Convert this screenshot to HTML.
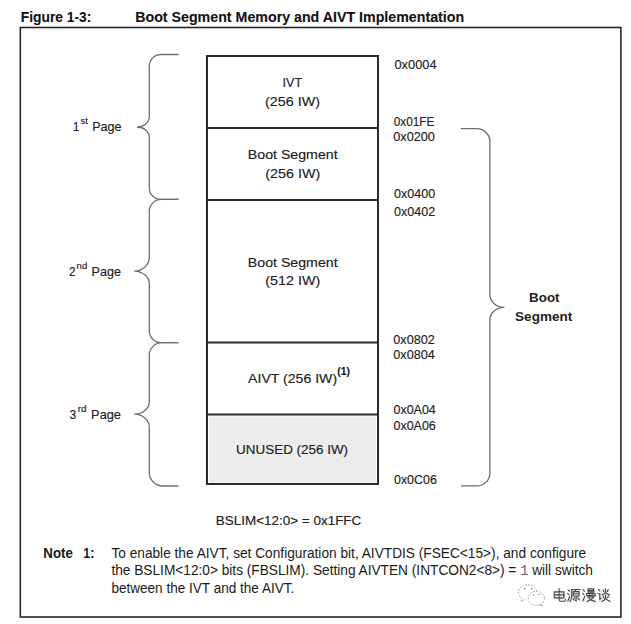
<!DOCTYPE html>
<html><head><meta charset="utf-8">
<style>
html,body{margin:0;padding:0;background:#fff;width:631px;height:624px;overflow:hidden}
svg{display:block}
text{font-family:"Liberation Sans",sans-serif;fill:#1a1a1a;stroke:#1a1a1a;stroke-width:0.15}
.t{font-size:14.5px;font-weight:bold;fill:#111;stroke-width:0.1}
.d{font-size:13px;fill:#222}
.a{font-size:13.3px;fill:#222}
.n{font-size:14px;fill:#1a1a1a;stroke:none}
.br{fill:none;stroke:#6e6e6e;stroke-width:1.3}
</style></head>
<body>
<svg width="631" height="624" viewBox="0 0 631 624">
<!-- title -->
<text class="t" x="20.8" y="21.5" textLength="70.5" lengthAdjust="spacingAndGlyphs">Figure 1-3:</text>
<text class="t" x="135.2" y="21.5" textLength="329" lengthAdjust="spacingAndGlyphs">Boot Segment Memory and AIVT Implementation</text>
<!-- frame -->
<rect x="20.3" y="27.5" width="600.6" height="589.5" fill="none" stroke="#262626" stroke-width="1.6"/>

<!-- memory box -->
<rect x="209" y="416.5" width="167" height="66" fill="#ececec"/>
<g stroke="#2a2a2a" stroke-width="2" fill="none">
<rect x="207" y="56" width="171" height="428"/>
<line x1="207" y1="128" x2="378" y2="128"/>
<line x1="207" y1="200" x2="378" y2="200"/>
<line x1="207" y1="342.5" x2="378" y2="342.5"/>
<line x1="207" y1="414.5" x2="378" y2="414.5"/>
</g>

<!-- box texts -->
<text class="d" x="282.6" y="87.1" textLength="19.5" lengthAdjust="spacingAndGlyphs">IVT</text>
<text class="d" x="265.1" y="106.0" textLength="55" lengthAdjust="spacingAndGlyphs">(256 IW)</text>
<text class="d" x="247.8" y="159.2" textLength="89.8" lengthAdjust="spacingAndGlyphs">Boot Segment</text>
<text class="d" x="265.3" y="178.3" textLength="55" lengthAdjust="spacingAndGlyphs">(256 IW)</text>
<text class="d" x="247.8" y="266.6" textLength="89.8" lengthAdjust="spacingAndGlyphs">Boot Segment</text>
<text class="d" x="265.3" y="284.8" textLength="55" lengthAdjust="spacingAndGlyphs">(512 IW)</text>
<text class="d" x="248.1" y="382.7" textLength="89" lengthAdjust="spacingAndGlyphs">AIVT (256 IW)</text>
<text x="337.2" y="374.6" style="font-size:10px;font-weight:bold;stroke-width:0.1" textLength="12.7" lengthAdjust="spacingAndGlyphs">(1)</text>
<text class="d" x="236.1" y="453.9" textLength="112" lengthAdjust="spacingAndGlyphs">UNUSED (256 IW)</text>

<!-- addresses -->
<text class="a" x="394.5" y="69.0" textLength="42" lengthAdjust="spacingAndGlyphs">0x0004</text>
<text class="a" x="393.7" y="126.4" textLength="40.8" lengthAdjust="spacingAndGlyphs">0x01FE</text>
<text class="a" x="393.3" y="141.3" textLength="41.6" lengthAdjust="spacingAndGlyphs">0x0200</text>
<text class="a" x="394" y="198.3" textLength="41.2" lengthAdjust="spacingAndGlyphs">0x0400</text>
<text class="a" x="394" y="216.1" textLength="41.2" lengthAdjust="spacingAndGlyphs">0x0402</text>
<text class="a" x="393.3" y="343.8" textLength="41.6" lengthAdjust="spacingAndGlyphs">0x0802</text>
<text class="a" x="393.3" y="358.5" textLength="41.6" lengthAdjust="spacingAndGlyphs">0x0804</text>
<text class="a" x="393.5" y="413.8" textLength="42.3" lengthAdjust="spacingAndGlyphs">0x0A04</text>
<text class="a" x="393.5" y="429.9" textLength="42.3" lengthAdjust="spacingAndGlyphs">0x0A06</text>
<text class="a" x="394" y="484.2" textLength="42.8" lengthAdjust="spacingAndGlyphs">0x0C06</text>

<!-- page labels -->
<text class="d" x="72.8" y="130.9" textLength="6.6" lengthAdjust="spacingAndGlyphs">1</text>
<text x="80.5" y="124" style="font-size:9.5px" textLength="7.2" lengthAdjust="spacingAndGlyphs">st</text>
<text class="d" x="92.2" y="130.9" textLength="29.4" lengthAdjust="spacingAndGlyphs">Page</text>
<text class="d" x="68.9" y="275.5" textLength="6.6" lengthAdjust="spacingAndGlyphs">2</text>
<text x="76.6" y="268.6" style="font-size:9.5px" textLength="10.6" lengthAdjust="spacingAndGlyphs">nd</text>
<text class="d" x="91.6" y="275.5" textLength="29.4" lengthAdjust="spacingAndGlyphs">Page</text>
<text class="d" x="69.4" y="418.5" textLength="6.7" lengthAdjust="spacingAndGlyphs">3</text>
<text x="77.8" y="411.6" style="font-size:9.5px" textLength="8.8" lengthAdjust="spacingAndGlyphs">rd</text>
<text class="d" x="91.1" y="418.5" textLength="29.9" lengthAdjust="spacingAndGlyphs">Page</text>

<!-- right label -->
<text class="d" x="529.1" y="301.7" style="font-weight:bold;stroke:none" textLength="30.4" lengthAdjust="spacingAndGlyphs">Boot</text>
<text class="d" x="515.1" y="321.1" style="font-weight:bold;stroke:none" textLength="57.1" lengthAdjust="spacingAndGlyphs">Segment</text>

<!-- braces -->
<path class="br" d="M178.5 54.5 L160.8 54.5 A11.5 11.5 0 0 0 149.3 66.0 L149.3 116.5 A12.300000000000011 10.5 0 0 1 137 127 A12.300000000000011 10.5 0 0 1 149.3 137.5 L149.3 187.9 A11.5 11.5 0 0 0 160.8 199.4 L178.5 199.4"/>
<path class="br" d="M178.5 199.4 L161.3 199.4 A12 12 0 0 0 149.3 211.4 L149.3 257.2 A15.0 14 0 0 1 134.3 271.2 A15.0 12.5 0 0 1 149.3 283.7 L149.3 330.7 A12 12 0 0 0 161.3 342.7 L178.5 342.7"/>
<path class="br" d="M178.5 342.7 L161.8 342.7 A12.5 12.5 0 0 0 149.3 355.2 L149.3 401.7 A15.0 12.5 0 0 1 134.3 414.2 A15.0 12.8 0 0 1 149.3 427.0 L149.3 472.5 A13.5 13.5 0 0 0 162.8 486 L178.5 486"/>
<path class="br" d="M460.9 128.7 L476.9 128.7 A13 13 0 0 1 489.9 141.7 L489.9 294.59999999999997 A14.600000000000023 12.8 0 0 0 504.5 307.4 A14.600000000000023 12.2 0 0 0 489.9 319.59999999999997 L489.9 472.9 A13 13 0 0 1 476.9 485.9 L460.9 485.9"/>

<!-- BSLIM -->
<text class="d" x="215.8" y="525.2" textLength="145.5" lengthAdjust="spacingAndGlyphs">BSLIM&lt;12:0&gt; = 0x1FFC</text>

<!-- note -->
<text class="n" x="43.3" y="558" style="font-weight:bold" textLength="29.6" lengthAdjust="spacingAndGlyphs">Note</text>
<text class="n" x="83.3" y="558" style="font-weight:bold" textLength="11" lengthAdjust="spacingAndGlyphs">1:</text>
<text class="n" x="111.4" y="557.8" textLength="474.8" lengthAdjust="spacingAndGlyphs">To enable the AIVT, set Configuration bit, AIVTDIS (FSEC&lt;15&gt;), and configure</text>
<text class="n" x="111.4" y="575.4" textLength="481.6" lengthAdjust="spacingAndGlyphs">the BSLIM&lt;12:0&gt; bits (FBSLIM). Setting AIVTEN (INTCON2&lt;8&gt;) = <tspan style="font-family:'Liberation Mono',monospace;fill:#6a5a78;stroke:none">1</tspan> will switch</text>
<text class="n" x="111.4" y="592.8" textLength="182.9" lengthAdjust="spacingAndGlyphs">between the IVT and the AIVT.</text>

<!-- watermark -->
<g fill="none" stroke="#a0a0a0" stroke-width="0.9" stroke-linecap="round" stroke-dasharray="1.2 1.8">
<path d="M536.5 590.5 A9.2 7.6 0 1 0 522 598.5 L521 601.5 L525 599.5"/>
</g>
<ellipse cx="536.3" cy="598.3" rx="8" ry="7" fill="#fff" stroke="#909090" stroke-width="0.9" stroke-dasharray="1.6 1.6"/>
<path d="M541 604.5 L542.5 606 L539.5 605" fill="none" stroke="#999" stroke-width="0.9"/>
<g fill="#888"><circle cx="524.8" cy="588.8" r="0.8"/><circle cx="531.5" cy="588.8" r="0.8"/><circle cx="533.5" cy="595" r="0.7"/><circle cx="538.8" cy="594.8" r="0.8"/></g>
<g fill="none" stroke="#e0e0e0" stroke-width="8" stroke-linecap="square">
<g transform="translate(553.6 589.2) scale(0.135)"><path d="M12 26 H84 V70 H12 Z M12 48 H84 M48 4 V84 Q48 95 60 95 H86 Q95 95 95 82"/></g>
<g transform="translate(568.1 589.2) scale(0.135)"><path d="M8 10 L16 20 M4 38 L14 46 M6 92 L18 62 M30 8 H96 M34 8 V55 Q34 80 22 96 M64 10 L60 20 M46 24 H88 V56 H46 Z M46 40 H88 M67 56 V92 L60 88 M54 70 L46 84 M80 70 L90 84"/></g>
<g transform="translate(583.1 589.2) scale(0.135)"><path d="M8 10 L16 20 M4 38 L14 46 M6 92 L18 62 M44 4 H86 V28 H44 Z M44 16 H86 M34 38 H96 V54 H34 Z M55 38 V54 M75 38 V54 M42 64 H86 Q70 88 36 96 M50 72 Q66 90 96 96"/></g>
<g transform="translate(598.1 589.2) scale(0.135)"><path d="M10 8 L20 18 M6 40 H20 V82 L28 74 M62 4 V30 Q56 40 38 46 M62 30 Q68 40 90 46 M44 12 L48 24 M82 10 L76 22 M62 50 V72 Q58 86 36 96 M62 72 Q72 86 94 96 M44 58 L48 70 M84 56 L78 68"/></g>
</g>
<g fill="none" stroke="#4a4a4a" stroke-width="8.5" stroke-linecap="square">
<g transform="translate(552.6 588.4) scale(0.135)">
<path d="M12 26 H84 V70 H12 Z M12 48 H84 M48 4 V84 Q48 95 60 95 H86 Q95 95 95 82"/>
</g>
<g transform="translate(567.1 588.4) scale(0.135)">
<path d="M8 10 L16 20 M4 38 L14 46 M6 92 L18 62 M30 8 H96 M34 8 V55 Q34 80 22 96 M64 10 L60 20 M46 24 H88 V56 H46 Z M46 40 H88 M67 56 V92 L60 88 M54 70 L46 84 M80 70 L90 84"/>
</g>
<g transform="translate(582.1 588.4) scale(0.135)">
<path d="M8 10 L16 20 M4 38 L14 46 M6 92 L18 62 M44 4 H86 V28 H44 Z M44 16 H86 M34 38 H96 V54 H34 Z M55 38 V54 M75 38 V54 M42 64 H86 Q70 88 36 96 M50 72 Q66 90 96 96"/>
</g>
<g transform="translate(597.1 588.4) scale(0.135)">
<path d="M10 8 L20 18 M6 40 H20 V82 L28 74 M62 4 V30 Q56 40 38 46 M62 30 Q68 40 90 46 M44 12 L48 24 M82 10 L76 22 M62 50 V72 Q58 86 36 96 M62 72 Q72 86 94 96 M44 58 L48 70 M84 56 L78 68"/>
</g>
</g>
</svg>
</body></html>
